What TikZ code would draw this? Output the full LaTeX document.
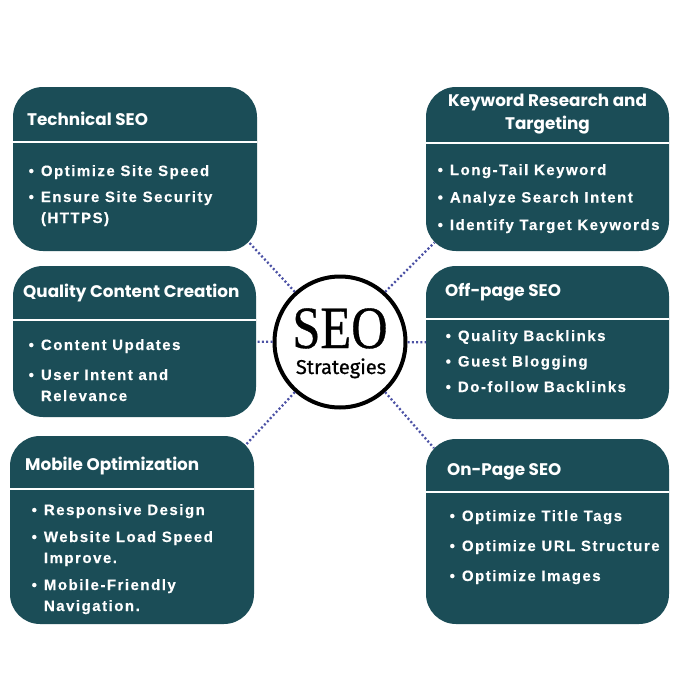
\documentclass[tikz,border=0pt]{standalone}
\usepackage{fontspec}
\setmainfont{Liberation Sans}
\newfontfamily\titlefont{Poppins}
\newfontfamily\itemfont{Liberation Sans}[LetterSpace=10,FakeBold=0.4]
\newfontfamily\seofont{Liberation Serif}[FakeBold=0.6]
\newfontfamily\stratfont{Fira Sans}[FakeBold=0.8]
\definecolor{seoteal}{RGB}{27,77,87}
\definecolor{seodot}{RGB}{76,82,165}
\tikzset{
  box/.style={rectangle, fill=seoteal, rounded corners=30pt, inner sep=0pt, outer sep=0pt},
  divider/.style={white, line width=2pt},
  title/.style={text=white, inner sep=0pt, font=\titlefont\bfseries\fontsize{16.8}{23}\selectfont},
  itemlist/.style={text=white, inner sep=0pt, anchor=base west, font=\itemfont\bfseries\fontsize{15}{21}\selectfont},
  link/.style={seodot, line width=2.3pt, dash pattern=on 2pt off 2.3pt, shorten >=-12pt}
}
\newcommand{\bl}{\textbullet &}
\begin{document}
\begin{tikzpicture}[x=1pt,y=-1pt]
  \fill[white] (0,0) rectangle (680,680);
  \useasboundingbox (0,0) rectangle (680,680);
  % boxes
  \node[box, minimum width=244pt, minimum height=164pt] (tech) at (135,169) {};
  \node[box, minimum width=243pt, minimum height=164pt] (kw) at (547.5,169) {};
  \node[box, minimum width=243pt, minimum height=151pt] (qual) at (134.5,341.5) {};
  \node[box, minimum width=243pt, minimum height=153pt] (off) at (547.5,342.5) {};
  \node[box, minimum width=244pt, minimum height=188pt] (mob) at (132,530) {};
  \node[box, minimum width=243pt, minimum height=185pt] (onp) at (547.5,531.5) {};
  \draw[divider] (13,142) -- (257,142);
  \draw[divider] (426,143) -- (669,143);
  \draw[divider] (13,320) -- (256,320);
  \draw[divider] (426,319) -- (669,319);
  \draw[divider] (10,489) -- (254,489);
  \draw[divider] (426,492) -- (669,492);
  % titles
  \node[title, anchor=base west] (techT) at (27,125) {Technical SEO};
  \node[title, align=center] (kwT) at (547.5,114.5) {Keyword Research and\\Targeting};
  \node[title, anchor=base west] (qualT) at (23,297) {Quality Content Creation};
  \node[title, anchor=base west] (offT) at (445,296) {Off-page SEO};
  \node[title, anchor=base west] (mobT) at (25,470) {Mobile Optimization};
  \node[title, anchor=base west] (onpT) at (447,475) {On-Page SEO};
  % lists
  \node[itemlist] (techL) at (28.5,176) {\begin{tabular}[t]{@{}l@{\hspace{7pt}}l@{}}
    \bl Optimize Site Speed\\[5pt] \bl Ensure Site Security\\ & (HTTPS)\end{tabular}};
  \node[itemlist] (kwL) at (437.5,175) {\begin{tabular}[t]{@{}l@{\hspace{7pt}}l@{}}
    \bl Long-Tail Keyword\\[6.5pt] \bl Analyze Search Intent\\[6.5pt] \bl Identify Target Keywords\end{tabular}};
  \node[itemlist] (qualL) at (28.5,350) {\begin{tabular}[t]{@{}l@{\hspace{7pt}}l@{}}
    \bl Content Updates\\[9pt] \bl User Intent and\\ & Relevance\end{tabular}};
  \node[itemlist] (offL) at (445.5,341) {\begin{tabular}[t]{@{}l@{\hspace{7pt}}l@{}}
    \bl Quality Backlinks\\[4.5pt] \bl Guest Blogging\\[4.5pt] \bl Do-follow Backlinks\end{tabular}};
  \node[itemlist] (mobL) at (31.5,515) {\begin{tabular}[t]{@{}l@{\hspace{7pt}}l@{}}
    \bl Responsive Design\\[6pt] \bl Website Load Speed\\ & Improve.\\[6pt] \bl Mobile-Friendly\\ & Navigation.\end{tabular}};
  \node[itemlist] (onpL) at (449.5,521) {\begin{tabular}[t]{@{}l@{\hspace{7pt}}l@{}}
    \bl Optimize Title Tags\\[9pt] \bl Optimize URL Structure\\[9pt] \bl Optimize Images\end{tabular}};
  % centre
  \node[circle, draw, line width=4pt, fill=white, minimum size=131pt] (seo) at (340,342) {};
  \node[anchor=base, inner sep=0pt] (seoT) at (340,348) {\seofont\fontsize{60}{60}\selectfont\scalebox{0.84}[1]{SEO}};
  \node[anchor=base, inner sep=0pt] (stratT) at (341,374) {\stratfont\fontsize{20}{20}\selectfont Strategies};
  \draw[link] (seo.132) -- (tech.south east);
  \draw[link] (seo.48) -- (kw.south west);
  \draw[link, shorten >=0pt] (seo) -- (qual);
  \draw[link, shorten >=0pt] (seo) -- (off);
  \draw[link] (seo.228) -- (mob.north east);
  \draw[link] (seo.312) -- (onp.north west);
\end{tikzpicture}
\end{document}
